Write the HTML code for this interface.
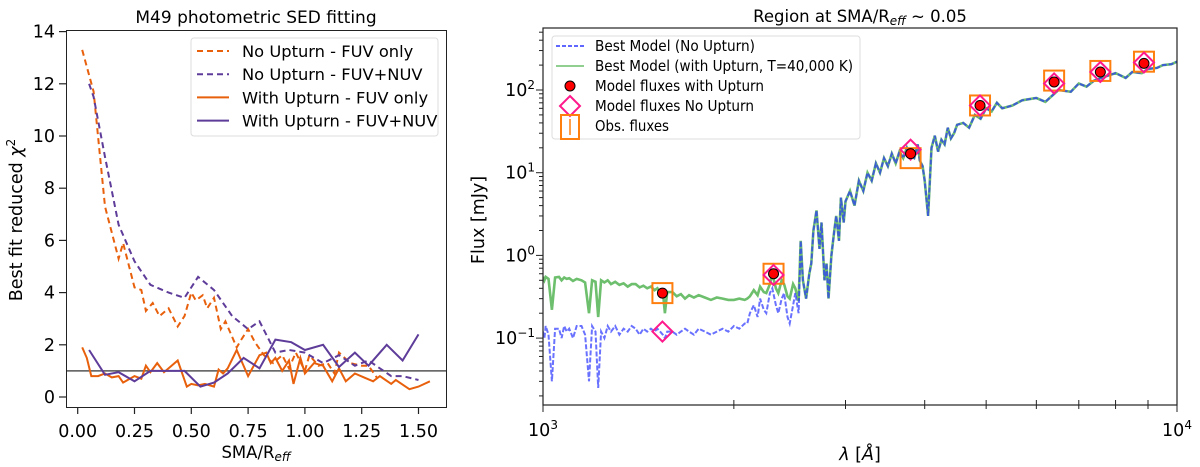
<!DOCTYPE html>
<html><head><meta charset="utf-8"><style>
body{margin:0;background:#fff;}
svg{display:block;font-family:"DejaVu Sans","Liberation Sans",sans-serif;}
</style></head><body>
<svg id="fig" width="1200" height="467" viewBox="0 0 1200 467">
<g id="left"></g>
<g id="right"></g>
</svg>
<script>
// ---- Left panel data ----
const odX = [0.02,0.07,0.12,0.18,0.20,0.25,0.28,0.30,0.33,0.36,0.40,0.44,0.47,0.50,0.52,0.55,0.57,0.60,0.63,0.65,0.70,0.72,0.75,0.78,0.82,0.86,0.90,0.93,0.96,1.00,1.02,1.06,1.10,1.13,1.15,1.20,1.25,1.28,1.32];
const odY = [13.3,11.7,7.3,5.3,5.9,4.2,4.1,3.3,3.6,3.1,3.4,2.7,3.1,4.0,3.7,3.9,3.4,3.8,2.6,2.9,1.9,2.2,2.6,2.1,1.6,1.3,1.6,1.1,1.7,1.0,1.6,1.2,1.3,0.9,1.7,1.3,1.2,1.2,0.7];
const pdX = [0.05,0.07,0.12,0.18,0.25,0.32,0.40,0.47,0.53,0.60,0.68,0.75,0.80,0.87,0.93,1.00,1.08,1.15,1.22,1.28,1.38,1.43,1.50];
const pdY = [12.0,11.5,9.2,6.6,5.2,4.3,4.0,3.8,4.6,4.1,3.1,2.6,2.9,1.7,1.8,1.7,1.3,1.6,1.2,1.4,0.8,0.8,0.65];
const osX = [0.02,0.04,0.06,0.09,0.12,0.15,0.18,0.20,0.25,0.28,0.30,0.32,0.35,0.38,0.44,0.48,0.50,0.53,0.56,0.60,0.62,0.64,0.66,0.70,0.75,0.80,0.83,0.85,0.87,0.90,0.93,0.95,0.98,1.00,1.04,1.08,1.12,1.15,1.18,1.22,1.26,1.30,1.33,1.38,1.40,1.46,1.50,1.55];
const osY = [1.9,1.5,0.8,0.8,0.9,0.75,0.8,0.55,0.8,0.7,1.2,0.95,1.3,0.95,1.4,0.4,0.5,0.45,0.5,0.4,1.05,0.9,1.1,1.8,0.8,1.6,1.7,1.3,1.5,1.0,1.4,0.5,1.5,0.9,1.3,1.2,0.6,1.1,0.6,0.9,0.75,0.6,0.8,0.5,0.65,0.3,0.4,0.6];
const psX = [0.05,0.12,0.18,0.25,0.32,0.40,0.47,0.54,0.60,0.66,0.73,0.80,0.87,0.94,1.00,1.08,1.15,1.22,1.28,1.36,1.43,1.50];
const psY = [1.8,0.85,0.95,0.6,1.0,1.0,1.0,0.4,0.55,0.9,1.5,1.1,2.2,2.1,1.8,2.0,1.15,1.7,1.2,2.0,1.4,2.4];
const xTicksL = [0,0.25,0.5,0.75,1.0,1.25,1.5];
const xTickLabL = ["0.00","0.25","0.50","0.75","1.00","1.25","1.50"];
const yTicksL = [0,2,4,6,8,10,12,14];

// ---- Right panel data ----
const lam = [1000,1005,1010,1020,1033,1045,1060,1070,1080,1090,1100,1115,1130,1150,1165,1182,1195,1210,1222,1235,1250,1265,1280,1300,1320,1340,1360,1380,1400,1420,1440,1460,1480,1500,1515,1530,1545,1557,1570,1600,1625,1650,1675,1700,1730,1760,1800,1840,1880,1920,1960,2000,2040,2080,2100,2120,2150,2180,2200,2230,2250,2280,2300,2330,2350,2380,2400,2430,2450,2480,2500,2530,2550,2570,2600,2630,2650,2670,2700,2730,2750,2780,2800,2820,2850,2880,2900,2930,2950,2980,3000,3050,3100,3150,3200,3250,3300,3350,3400,3450,3500,3550,3600,3650,3700,3750,3800,3850,3900,3930,3970,4000,4050,4100,4150,4200,4250,4300,4350,4400,4450,4500,4600,4700,4800,4900,5000,5100,5200,5300,5500,5700,6000,6200,6500,6800,7000,7200,7400,7600,7800,8000,8300,8500,8800,9000,9300,9500,9800,10000];
const fluxUp = [0.55,0.5,0.55,0.52,0.22,0.54,0.55,0.5,0.54,0.52,0.53,0.49,0.52,0.5,0.47,0.2,0.5,0.48,0.18,0.5,0.47,0.5,0.45,0.48,0.44,0.46,0.42,0.45,0.45,0.41,0.43,0.4,0.42,0.38,0.4,0.35,0.37,0.2,0.36,0.36,0.32,0.34,0.3,0.33,0.31,0.33,0.31,0.29,0.31,0.3,0.29,0.29,0.3,0.29,0.3,0.32,0.38,0.33,0.42,0.36,0.35,0.45,0.6,0.4,0.35,0.5,0.45,0.32,0.3,0.45,0.4,0.28,1.5,0.5,0.3,0.6,0.8,2.0,3.5,1.2,2.5,0.5,0.8,0.3,1.0,2.0,3.0,1.5,5.0,2.5,4.5,6,4,8,6,10,8,13,10,15,12,17,13,18,15,20,16,15,22,14,12,8,3,20,28,18,25,22,35,26,30,38,40,35,50,45,60,55,70,60,65,75,80,72,100,95,120,110,130,140,150,160,140,165,160,180,185,200,205,220,225,240,245,250];
const fluxNo = [0.12,0.1,0.14,0.11,0.03,0.13,0.13,0.1,0.14,0.12,0.13,0.1,0.14,0.14,0.11,0.03,0.14,0.12,0.025,0.12,0.1,0.14,0.12,0.14,0.11,0.13,0.12,0.14,0.13,0.11,0.13,0.12,0.13,0.12,0.13,0.12,0.11,0.1,0.12,0.12,0.11,0.12,0.13,0.12,0.11,0.13,0.12,0.11,0.12,0.13,0.12,0.14,0.13,0.15,0.15,0.2,0.25,0.18,0.3,0.22,0.2,0.35,0.4,0.25,0.2,0.3,0.35,0.18,0.15,0.25,0.35,0.2,1.5,0.5,0.3,0.6,0.8,2.0,3.5,1.2,2.5,0.5,0.8,0.3,1.0,2.0,3.0,1.5,5.0,2.5,4.5,6,4,8,6,10,8,13,10,15,12,17,13,18,15,20,16,15,22,14,12,8,3,20,28,18,25,22,35,26,30,38,40,35,50,45,60,55,70,60,65,75,80,72,100,95,120,110,130,140,150,160,140,165,160,180,185,200,205,220,225,240,245,250];
const bandLam = [1543,2310,3800,4890,6400,7570,8870];
const modUp = [0.35,0.6,17,65,125,165,210];
const modNo = [0.12,0.58,19,65,120,165,215];
const obsF = [0.35,0.6,15,65,130,170,220];
const yDecades = [-1,0,1,2];

const NS='http://www.w3.org/2000/svg';
function el(tag, attrs, parent, text){
  const e=document.createElementNS(NS,tag);
  for(const k in attrs) e.setAttribute(k,attrs[k]);
  if(text!==undefined) e.textContent=text;
  parent.appendChild(e); return e;
}
// ===== LEFT =====
const L=document.getElementById('left');
const lx=v=>77.7+v*227.2, ly=v=>397-v*26.1;
const ORANGE='#e8600c', PURPLE='#5e3c99';
function poly(xs,ys,fx,fy){return xs.map((x,i)=>fx(x).toFixed(1)+','+fy(ys[i]).toFixed(1)).join(' ');}
let t=el('text',{x:256,y:23,'text-anchor':'middle','font-size':17},L,'M49 photometric SED fitting');


let hl=el('line',{x1:66,x2:446,y1:ly(1),y2:ly(1),stroke:'#555','stroke-width':1.5},L);


const series=[[odX,odY,ORANGE,'6,4','no-upturn-fuv-line'],[pdX,pdY,PURPLE,'6,4','no-upturn-fuvnuv-line'],[osX,osY,ORANGE,'','with-upturn-fuv-line'],[psX,psY,PURPLE,'','with-upturn-fuvnuv-line']];
series.forEach(s=>{
  const p=el('polyline',{points:poly(s[0],s[1],lx,ly),fill:'none',stroke:s[2],'stroke-width':2,'stroke-dasharray':s[3]},L);
  
  
});
let fr=el('rect',{x:66.5,y:30.5,width:380,height:377,fill:'none',stroke:'#222','stroke-width':1},L);


xTicksL.forEach((v,i)=>{
  el('line',{x1:lx(v),x2:lx(v),y1:407,y2:414,stroke:'#222','stroke-width':1.2},L);
  const tx=el('text',{x:lx(v),y:437,'text-anchor':'middle','font-size':17.5},L,xTickLabL[i]);
  
  
});
yTicksL.forEach(v=>{
  el('line',{x1:59,x2:66,y1:ly(v),y2:ly(v),stroke:'#222','stroke-width':1.2},L);
  const tx=el('text',{x:55,y:ly(v)+6,'text-anchor':'end','font-size':17.5},L,String(v));
  
  
});
t=el('text',{x:256,y:458,'text-anchor':'middle','font-size':16.5},L);
t.innerHTML='SMA/R<tspan font-size="12" font-style="italic" dy="3">eff</tspan>';


t=el('text',{transform:'translate(22,220) rotate(-90)','text-anchor':'middle','font-size':17.5},L);
t.innerHTML='Best fit reduced <tspan font-style="italic">χ</tspan><tspan font-size="12" dy="-7">2</tspan>';


const lg=el('g',{},L);


el('rect',{x:191,y:38,width:247,height:98,rx:3,fill:'#fff','fill-opacity':0.85,stroke:'#ddd'},lg);
const lgItems=[['No Upturn - FUV only',ORANGE,'6,4'],['No Upturn - FUV+NUV',PURPLE,'6,4'],['With Upturn - FUV only',ORANGE,''],['With Upturn - FUV+NUV',PURPLE,'']];
lgItems.forEach((it,i)=>{
  const y=51+i*23.2;
  el('line',{x1:197,x2:229,y1:y,y2:y,stroke:it[1],'stroke-width':2,'stroke-dasharray':it[2]},lg);
  const tx=el('text',{x:242,y:y+6,'font-size':16.3},lg,it[0]);
  
  
});

// ===== RIGHT =====
const R=document.getElementById('right');
const X0=543,X1=1177,YT=28,YB=405;
const rx=l=>X0+(Math.log10(l)-3)*(X1-X0);
const ry=f=>90-(Math.log10(f)-2)*82.7;
t=el('text',{x:860,y:22,'text-anchor':'middle','font-size':16.5},R);
t.innerHTML='Region at SMA/R<tspan font-size="12" font-style="italic" dy="3">eff</tspan><tspan dy="-3"> ~ 0.05</tspan>';


const clip=el('clipPath',{id:'rc'},R); el('rect',{x:X0,y:YT,width:X1-X0,height:YB-YT},clip);
const sg=el('g',{'clip-path':'url(#rc)'},R);
let gp=el('polyline',{points:poly(lam,fluxUp,rx,ry),fill:'none',stroke:'#6dbf6d','stroke-width':2.6},sg);


let bp=el('polyline',{points:poly(lam,fluxNo,rx,ry),fill:'none',stroke:'#2a35ff','stroke-width':2,'stroke-dasharray':'5,2','stroke-opacity':0.7},sg);


bandLam.forEach((l,i)=>{
  const x=rx(l);
  let r=el('rect',{x:x-10,y:ry(obsF[i])-10,width:20,height:20,fill:'none',stroke:'#ff7f0e','stroke-width':2},R);
  
  
  let yd=ry(modNo[i]);
  let d=el('polygon',{points:`${x},${yd-10} ${x+10},${yd} ${x},${yd+10} ${x-10},${yd}`,fill:'none',stroke:'#ff1a8c','stroke-width':2},R);
  
  
  let c=el('circle',{cx:x,cy:ry(modUp[i]),r:5,fill:'#f00',stroke:'#000','stroke-width':1},R);
  
  
});
fr=el('rect',{x:X0,y:YT,width:X1-X0,height:YB-YT,fill:'none',stroke:'#222','stroke-width':1.2},R);


for(let k=1;k<=10;k++){
  const x=rx(k*1000), major=(k===1||k===10);
  el('line',{x1:x,x2:x,y1:YB,y2:YB-(major?8:5),stroke:'#222','stroke-width':1},R);
  el('line',{x1:x,x2:x,y1:YB,y2:YB+(major?7:4),stroke:'#222','stroke-width':1},R);
}
[[3,X0],[4,X1]].forEach(a=>{
  const tx=el('text',{x:a[1],y:436,'text-anchor':'middle','font-size':17.5},R);
  tx.innerHTML='10<tspan font-size="12" dy="-7">'+a[0]+'</tspan>';
  
  
});
for(let d=-2;d<=2;d++){for(let m=1;m<10;m++){
  const y=ry(m*Math.pow(10,d)); if(y<YT||y>YB) continue;
  el('line',{x1:X0,x2:X0-(m===1?7:4),y1:y,y2:y,stroke:'#222','stroke-width':1},R);
}}
yDecades.forEach(d=>{
  const tx=el('text',{x:535,y:ry(Math.pow(10,d))+6,'text-anchor':'end','font-size':17.5},R);
  tx.innerHTML='10<tspan font-size="12" dy="-7">'+(d<0?'−'+(-d):d)+'</tspan>';
  
  
});
t=el('text',{x:860,y:460,'text-anchor':'middle','font-size':17.5},R);
t.innerHTML='<tspan font-style="italic">λ</tspan> [<tspan font-style="italic">Å</tspan>]';


t=el('text',{transform:'translate(484,220) rotate(-90)','text-anchor':'middle','font-size':17.5},R,'Flux [mJy]');


const rg=el('g',{},R);


el('rect',{x:552,y:36,width:308,height:103,rx:3,fill:'#fff','fill-opacity':0.85,stroke:'#ddd'},rg);
const rItems=['Best Model (No Upturn)','Best Model (with Upturn, T=40,000 K)','Model fluxes with Upturn','Model fluxes No Upturn','Obs. fluxes'];
const rLen=[160,258,169,159,74];
rItems.forEach((s,i)=>{
  const y=46+i*20;
  const tx=el('text',{x:595,y:y+5,'font-size':15,textLength:rLen[i],lengthAdjust:'spacingAndGlyphs'},rg,s);
  
  
});
el('line',{x1:556,x2:584,y1:46,y2:46,stroke:'#2a35ff','stroke-width':1.5,'stroke-dasharray':'4,2'},rg);
el('line',{x1:556,x2:584,y1:66,y2:66,stroke:'#6dbf6d','stroke-width':1.6},rg);
el('circle',{cx:570,cy:86,r:5,fill:'#f00',stroke:'#000'},rg);
el('polygon',{points:'570,96 580,106 570,116 560,106',fill:'none',stroke:'#ff1a8c','stroke-width':2},rg);
el('rect',{x:561,y:115,width:18,height:24,fill:'none',stroke:'#ff7f0e','stroke-width':2},rg);
el('line',{x1:570,x2:570,y1:119,y2:135,stroke:'#ff7f0e','stroke-width':1.5},rg);
</script>
</body></html>
